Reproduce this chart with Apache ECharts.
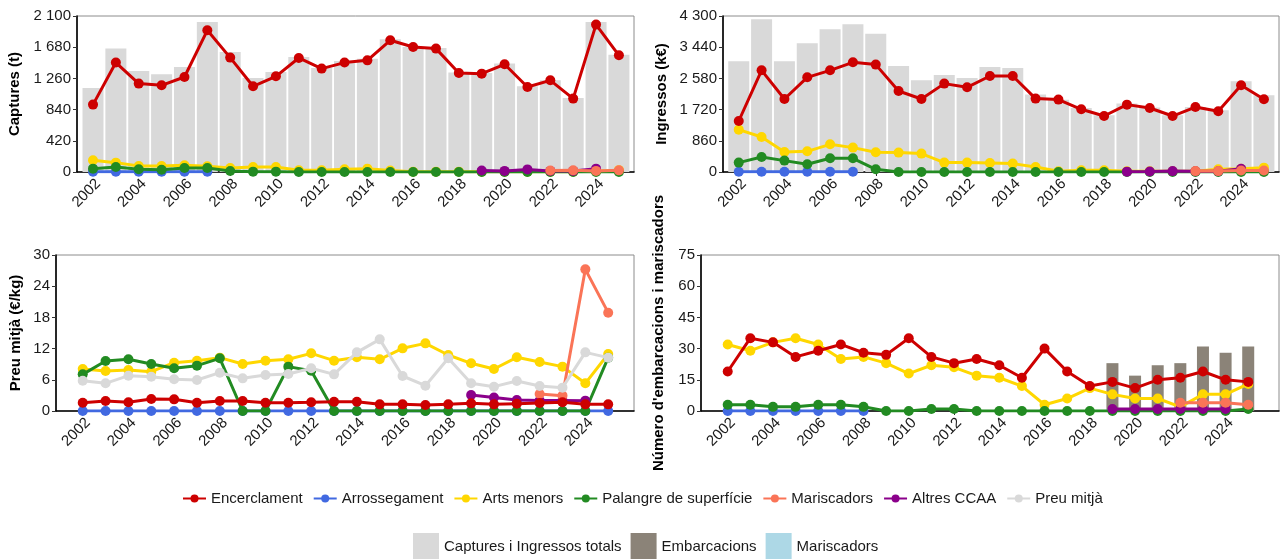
<!DOCTYPE html>
<html>
<head>
<meta charset="utf-8">
<script src="https://cdn.jsdelivr.net/npm/echarts@6/dist/echarts.min.js"></script>
<style>
html,body{margin:0;padding:0;background:#fff;}
#c{width:1282px;height:559px;}
</style>
</head>
<body>
<div id="c"></div>
<script>
// ---------- DATA ----------
const years = [2002,2003,2004,2005,2006,2007,2008,2009,2010,2011,2012,2013,2014,2015,2016,2017,2018,2019,2020,2021,2022,2023,2024,2025];
const xTickYears = [2002,2004,2006,2008,2010,2012,2014,2016,2018,2020,2022,2024];

// Captures (t)
const captTotal        = [1131,1661,1360,1315,1413,2019,1615,1265,1346,1548,1400,1494,1526,1786,1683,1669,1338,1333,1459,1154,1234,996,2019,1580];
const captEncerclament = [907,1473,1190,1167,1279,1907,1540,1154,1288,1535,1392,1473,1503,1773,1683,1661,1333,1324,1450,1144,1234,988,1984,1571];
const captArrossegament= [5,4,4,3,4,3,null,null,null,null,null,null,null,null,null,null,null,null,null,null,null,null,null,null];
const captArtsMenors   = [157,126,81,81,90,77,54,67,67,23,23,36,45,20,3,5,5,3,3,3,3,5,10,25];
const captPalangre     = [45,67,36,30,54,54,13,5,5,0,0,0,0,0,0,0,0,0,0,0,0,0,0,0];
const captMariscadors  = [null,null,null,null,null,null,null,null,null,null,null,null,null,null,null,null,null,null,null,null,20,22,15,22];
const captAltres       = [null,null,null,null,null,null,null,null,null,null,null,null,null,null,null,null,null,20,15,35,15,15,45,null];

// Ingressos (k€)
const ingTotal         = [3051,4208,3051,3547,3933,4071,3814,2921,2527,2673,2591,2894,2866,2133,1990,1764,1563,1885,1775,1563,1791,1700,2500,2114];
const ingEncerclament  = [1406,2803,2012,2610,2803,3023,2960,2232,2012,2436,2334,2646,2646,2023,1995,1728,1543,1857,1764,1543,1791,1673,2389,2003];
const ingArrossegament = [5,5,5,5,5,5,null,null,null,null,null,null,null,null,null,null,null,null,null,null,null,null,null,null];
const ingArtsMenors    = [1168,965,551,570,763,672,543,535,507,259,259,248,231,138,20,47,47,20,20,20,20,74,92,120];
const ingPalangre      = [259,413,314,212,378,378,74,0,0,0,0,0,0,0,0,0,0,0,0,0,0,0,0,0];
const ingMariscadors   = [null,null,null,null,null,null,null,null,null,null,null,null,null,null,null,null,null,null,null,null,25,25,40,40];
const ingAltres        = [null,null,null,null,null,null,null,null,null,null,null,null,null,null,null,null,null,10,15,25,20,20,90,null];

// Preu mitjà (€/kg)
const preuEncerclament = [1.60,1.92,1.67,2.31,2.24,1.60,1.92,1.92,1.60,1.60,1.67,1.79,1.79,1.28,1.28,1.15,1.28,1.47,1.28,1.41,1.54,1.67,1.28,1.28];
const preuArrossegament= [0,0,0,0,0,0,0,0,0,0,0,0,0,0,0,0,0,0,0,0,0,0,0,0];
const preuArtsMenors   = [8.08,7.69,7.88,7.56,9.29,9.68,10.26,9.04,9.68,9.94,11.09,9.68,10.32,9.94,12.05,13.01,10.77,9.17,8.08,10.32,9.42,8.53,5.32,10.96];
const preuPalangre     = [7.05,9.62,9.94,9.04,8.21,8.72,10.13,0,0,8.53,7.76,0,0,0,0,0,0,0,0,0,0,0,0,10.26];
const preuMariscadors  = [null,null,null,null,null,null,null,null,null,null,null,null,null,null,null,null,null,null,null,null,3.27,2.95,27.24,18.91];
const preuAltres       = [null,null,null,null,null,null,null,null,null,null,null,null,null,null,null,null,null,3.08,2.6,2.12,2.0,2.0,1.99,null];
const preuMitja        = [5.83,5.32,6.79,6.60,6.09,5.96,7.37,6.28,6.92,7.12,8.21,7.05,11.28,13.78,6.73,4.87,10.13,5.32,4.68,5.77,4.81,4.49,11.28,10.26];

// Número d'embarcacions i mariscadors
const nEncerclament    = [19,35,33,26,29,32,28,27,35,26,23,25,22,16,30,19,12,14,11,15,16,19,15,14];
const nArrossegament   = [0,0,0,0,0,0,0,null,null,null,null,null,null,null,null,null,null,null,null,null,null,null,null,null];
const nArtsMenors      = [32,29,33,35,32,25,26,23,18,22,21,17,16,12,3,6,11,8,6,6,2,8,8,13];
const nPalangre        = [3,3,2,2,3,3,2,0,0,1,1,0,0,0,0,0,0,0,0,0,0,0,0,1];
const nMariscadors     = [null,null,null,null,null,null,null,null,null,null,null,null,null,null,null,null,null,null,null,null,4,4,4,3];
const nAltres          = [null,null,null,null,null,null,null,null,null,null,null,null,null,null,null,null,null,1,1,1,1,1,1,null];
const nEmbarcacionsBar = [null,null,null,null,null,null,null,null,null,null,null,null,null,null,null,null,null,23,17,22,23,31,28,31];
const nMariscadorsBar  = [null,null,null,null,null,null,null,null,null,null,null,null,null,null,null,null,null,1,1,1,1,1,1,null];

// ---------- STYLE ----------
const FONT = "'Liberation Sans', Arial, Helvetica, sans-serif";
const C = {
  'Encerclament':'#CD0000',
  'Arrossegament':'#4169E1',
  'Arts menors':'#FFD700',
  'Palangre de superfície':'#228B22',
  'Mariscadors':'#FA7457',
  'Altres CCAA':'#8B008B',
  'Preu mitjà':'#D9D9D9'
};
const lineNames = ['Encerclament','Arrossegament','Arts menors','Palangre de superfície','Mariscadors','Altres CCAA','Preu mitjà'];

function pts(vals){ return years.map((y,i)=>[y, vals[i]]).filter(p=>p[1]!=null); }
function fmtThousands(v){ return String(v).replace(/\B(?=(\d{3})+(?!\d))/g,' '); }

const grids = [
  {left:77,  top:16,  width:557, height:156},
  {left:723, top:16,  width:556, height:156},
  {left:56,  top:255, width:578, height:156},
  {left:701, top:255, width:578, height:156}
];
const xRanges = [[2001.3,2025.66],[2001.31,2025.66],[2000.83,2026.13],[2000.82,2026.36]];
const yCfg = [
  {max:2100, interval:420, name:'Captures (t)', gap:55},
  {max:4300, interval:860, name:'Ingressos (k€)', gap:54},
  {max:30, interval:6, name:'Preu mitjà (€/kg)', gap:33},
  {max:75, interval:15, name:"Número d'embarcacions i mariscadors", gap:35}
];

const xAxis = grids.map((g,i)=>({
  type:'value', gridIndex:i, min:xRanges[i][0], max:xRanges[i][1],
  splitLine:{show:false},
  axisLine:{show:true, onZero:false, lineStyle:{color:'#000', width:1.6}},
  axisTick:{show:true, length:4, lineStyle:{color:'#333'}, customValues:xTickYears},
  axisLabel:{show:true, rotate:45, margin:4, align:'right', verticalAlign:'top', fontSize:15, fontFamily:FONT, color:'#1a1a1a', customValues:xTickYears, formatter:v=>String(v)}
}));
const yAxis = yCfg.map((c,i)=>({
  type:'value', gridIndex:i, min:0, max:c.max, interval:c.interval,
  name:c.name, nameLocation:'middle', nameGap:c.gap,
  nameTextStyle:{fontSize:15, fontWeight:'bold', fontFamily:FONT, color:'#000'},
  splitLine:{show:false},
  axisLine:{show:true, lineStyle:{color:'#000', width:1.6}},
  axisTick:{show:true, length:4, lineStyle:{color:'#333'}},
  axisLabel:{margin:6, fontSize:15, fontFamily:FONT, color:'#1a1a1a', formatter:v=>fmtThousands(v)}
}));

const series = [];
function bar(name, vals, gi, color, width, z){
  series.push({type:'bar', name, xAxisIndex:gi, yAxisIndex:gi, data:pts(vals), barWidth:width, barGap:'-100%',
    itemStyle:{color}, z:z||1, silent:true});
}
function line(name, vals, gi, z){
  series.push({type:'line', name, xAxisIndex:gi, yAxisIndex:gi, data:pts(vals),
    symbol:'circle', symbolSize:10, showSymbol:true,
    lineStyle:{color:C[name], width:3}, itemStyle:{color:C[name]}, z:z, silent:true});
}

// Panel 1 – Captures
bar('Captures i Ingressos totals', captTotal, 0, '#D9D9D9', 21);
line('Arrossegament', captArrossegament, 0, 2);
line('Arts menors', captArtsMenors, 0, 3);
line('Palangre de superfície', captPalangre, 0, 4);
line('Altres CCAA', captAltres, 0, 5);
line('Mariscadors', captMariscadors, 0, 6);
line('Encerclament', captEncerclament, 0, 7);
// Panel 2 – Ingressos
bar('Captures i Ingressos totals', ingTotal, 1, '#D9D9D9', 21);
line('Arrossegament', ingArrossegament, 1, 2);
line('Arts menors', ingArtsMenors, 1, 3);
line('Palangre de superfície', ingPalangre, 1, 4);
line('Altres CCAA', ingAltres, 1, 5);
line('Mariscadors', ingMariscadors, 1, 6);
line('Encerclament', ingEncerclament, 1, 7);
// Panel 3 – Preu
line('Arrossegament', preuArrossegament, 2, 2);
line('Arts menors', preuArtsMenors, 2, 3);
line('Palangre de superfície', preuPalangre, 2, 4);
line('Altres CCAA', preuAltres, 2, 5);
line('Mariscadors', preuMariscadors, 2, 6);
line('Encerclament', preuEncerclament, 2, 7);
line('Preu mitjà', preuMitja, 2, 8);
// Panel 4 – Embarcacions
bar('Embarcacions', nEmbarcacionsBar, 3, '#8B8378', 12);
bar('Mariscadors_bar', nMariscadorsBar, 3, '#ADD8E6', 12, 1);
line('Arrossegament', nArrossegament, 3, 2);
line('Arts menors', nArtsMenors, 3, 3);
line('Palangre de superfície', nPalangre, 3, 4);
line('Altres CCAA', nAltres, 3, 5);
line('Mariscadors', nMariscadors, 3, 6);
line('Encerclament', nEncerclament, 3, 7);

const option = {
  animation:false,
  backgroundColor:'#fff',
  textStyle:{fontFamily:FONT},
  grid: grids.map(g=>Object.assign({show:true, borderColor:'#8c8c8c', borderWidth:1, backgroundColor:'#fff', containLabel:false}, g)),
  xAxis, yAxis, series,
  legend:[
    {data:lineNames, left:182, top:491, padding:0, itemWidth:23, itemHeight:10, itemGap:10,
     textStyle:{fontSize:15, fontFamily:FONT, color:'#1a1a1a'}, selectedMode:false},
    {data:[{name:'Captures i Ingressos totals', icon:'rect'},{name:'Embarcacions', icon:'rect'},{name:'Mariscadors_bar', icon:'rect'}],
     left:413, top:533, padding:0, itemWidth:26, itemHeight:27, itemGap:9,
     formatter:n=> n==='Mariscadors_bar' ? 'Mariscadors' : n,
     textStyle:{fontSize:15, fontFamily:FONT, color:'#1a1a1a'}, selectedMode:false}
  ]
};
const chart = echarts.init(document.getElementById('c'), null, {renderer:'canvas'});
chart.setOption(option);
</script>
</body>
</html>
